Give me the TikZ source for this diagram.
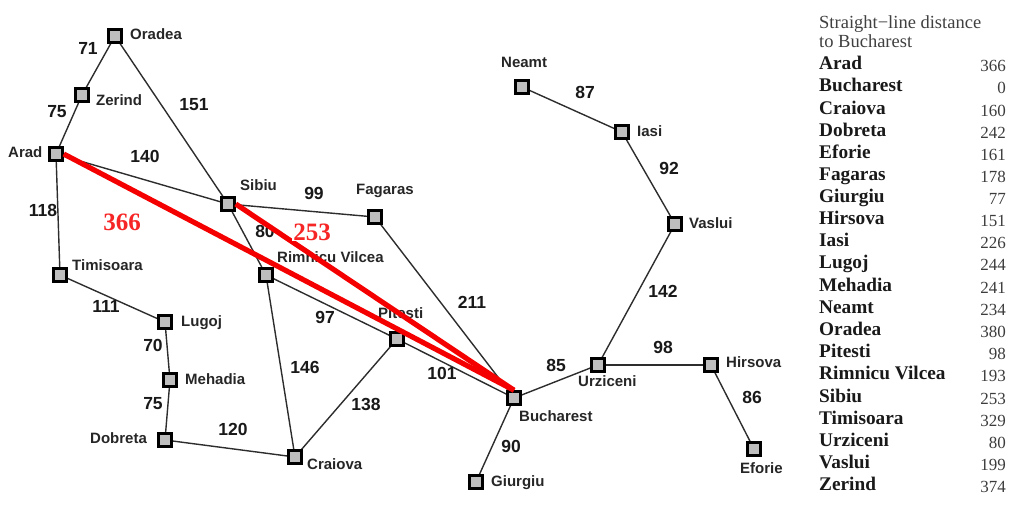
\documentclass[tikz,border=0pt]{standalone}
\usepackage{fontspec}
\setmainfont{Liberation Sans}
\newfontfamily\serifx{Liberation Serif}
\pgfdeclarelayer{edges}
\pgfdeclarelayer{labels}
\pgfdeclarelayer{redlayer}
\pgfsetlayers{edges,labels,main,redlayer}
\definecolor{cityfill}{RGB}{190,190,190}
\definecolor{edgecol}{RGB}{45,45,45}
\definecolor{routered}{RGB}{245,0,0}
\definecolor{tabname}{RGB}{25,25,25}
\definecolor{tabnum}{RGB}{60,60,60}
\tikzset{
  city/.style={draw=black,fill=cityfill,line width=3pt,minimum size=12.5pt,inner sep=0pt,rectangle},
  road/.style={draw=edgecol,line width=1.4pt},
  route/.style={draw=routered,line width=5.2pt},
  place/.style={font=\fontsize{15}{15}\selectfont\bfseries,text=black!85,inner sep=0pt,anchor=base west},
  dist/.style={font=\fontsize{17.5}{17.5}\selectfont\bfseries,text=black!90,inner sep=0pt},
  est/.style={font=\serifx\fontsize{25}{25}\selectfont\bfseries,text=routered!85!white,inner sep=1pt},
  tabhead/.style={font=\serifx\fontsize{18.5}{18.5}\selectfont,text=black!75,inner sep=0pt,anchor=base west},
  tabn/.style={font=\serifx\fontsize{19.3}{19.3}\selectfont\bfseries,text=tabname,inner sep=0pt,anchor=base west},
  tabv/.style={font=\serifx\fontsize{17}{17}\selectfont,text=tabnum,inner sep=0pt,anchor=base east},
}
\begin{document}
\begin{tikzpicture}[x=1pt,y=-1pt]
\useasboundingbox (0,0) rectangle (1018,517);
\foreach \n/\x/\y in {Oradea/115/36,Zerind/82/95,Arad/56/154,Sibiu/228/204,Fagaras/375/217,Timisoara/60/275,Lugoj/165/322,Mehadia/170/380,Dobreta/165/440,Craiova/295/457,Rimnicu/266/275,Pitesti/397/339,Bucharest/514/398,Giurgiu/476/482,Urziceni/598/365,Hirsova/711/365,Eforie/754/449,Vaslui/675/224,Iasi/622/132,Neamt/522/87}
  \node[city] (\n) at (\x,\y) {};
\begin{pgfonlayer}{edges}
\foreach \a/\b in {Oradea/Zerind,Zerind/Arad,Oradea/Sibiu,Arad/Sibiu,Arad/Timisoara,Timisoara/Lugoj,Lugoj/Mehadia,Mehadia/Dobreta,Dobreta/Craiova,Craiova/Rimnicu,Craiova/Pitesti,Rimnicu/Sibiu,Rimnicu/Pitesti,Sibiu/Fagaras,Fagaras/Bucharest,Pitesti/Bucharest,Bucharest/Giurgiu,Bucharest/Urziceni,Urziceni/Hirsova,Hirsova/Eforie,Urziceni/Vaslui,Vaslui/Iasi,Iasi/Neamt}
  \draw[road] (\a) -- (\b);
\end{pgfonlayer}
\begin{pgfonlayer}{labels}
\foreach \t/\x/\y in {Oradea/130/39,Zerind/96/105,Arad/8/157,Sibiu/240/190,Fagaras/356/194,Timisoara/72/270,Lugoj/181/326,Mehadia/185/384,Dobreta/90/443,Craiova/307/469,Rimnicu Vilcea/277/262,Pitesti/378/318,Bucharest/519/421,Giurgiu/491/486,Urziceni/578/386,Hirsova/726/367,Eforie/740/473,Vaslui/689/228,Iasi/637/136,Neamt/501/67}
  \node[place] (lab\x) at (\x,\y) {\t};
\foreach \t/\x/\y in {71/88/48,75/57/112,151/194/105,140/145/156,118/43/210,99/314/193,80/265/231,211/472/302,111/106/306,70/153/345,75/153/404,97/325/317,146/305/367,138/366/404,120/233/429,101/442/373,85/556/365,90/511/446,98/663/347,86/752/397,142/663/291,92/669/168,87/585/92}
  \node[dist] (d\x) at (\x,\y) {\t};
\end{pgfonlayer}
\begin{pgfonlayer}{redlayer}
\draw[route] (Arad.east) -- (Bucharest.north);
\draw[route] (Sibiu.east) -- (Bucharest.north);
\node[est] (h366) at (122,222) {366};
\node[est,fill=white] (h253) at (312,232) {253};
\end{pgfonlayer}
\node[tabhead] (head1) at (819,28) {Straight−line distance};
\node[tabhead] (head2) at (819,47) {to Bucharest};
\foreach \t/\v/\yn/\yv in {Arad/366/69/71,Bucharest/0/91/93,Craiova/160/114/116,Dobreta/242/136/138,Eforie/161/158/160,Fagaras/178/180/182,Giurgiu/77/202/204,Hirsova/151/224/226,Iasi/226/246/248,Lugoj/244/268/270,Mehadia/241/291/293,Neamt/234/313/315,Oradea/380/335/337,Pitesti/98/357/359,Rimnicu Vilcea/193/379/381,Sibiu/253/402/404,Timisoara/329/424/426,Urziceni/80/446/448,Vaslui/199/468/470,Zerind/374/490/492}{
  \node[tabn] (n\yn) at (819,\yn) {\t};
  \node[tabv] (v\yv) at (1006,\yv) {\v};
}
\end{tikzpicture}
\end{document}
